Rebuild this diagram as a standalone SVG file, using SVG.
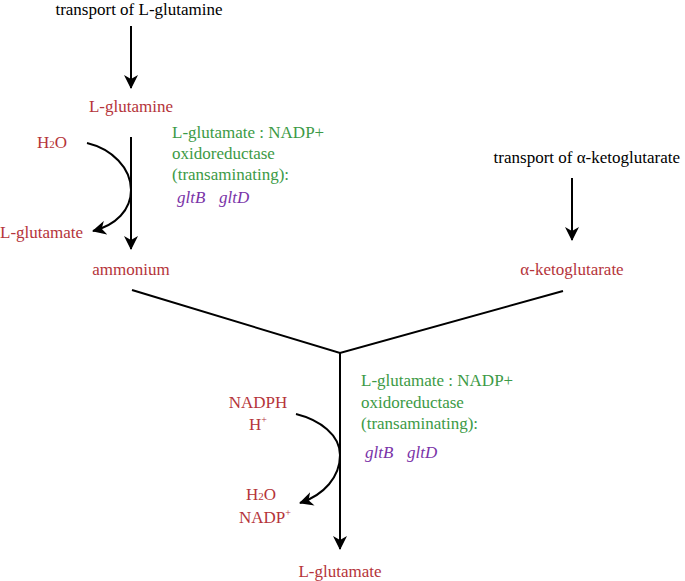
<svg xmlns="http://www.w3.org/2000/svg" width="685" height="581" viewBox="0 0 685 581">
<style>
text{font-family:'Liberation Serif','Times New Roman','DejaVu Serif',serif;font-size:17px}
.k{fill:#000}
.r{fill:#b5343a}
.g{fill:#3c9a46}
.p{fill:#7a34a8;font-style:italic}
.ln{stroke:#000;stroke-width:2;fill:none}
</style>
<defs>
<marker id="ah" markerWidth="14" markerHeight="14" viewBox="0 0 14 14" refX="13" refY="7" orient="auto" markerUnits="userSpaceOnUse">
<path d="M0,0 L14,7 L0,14 L4,7 Z" fill="#000"/>
</marker>
</defs>
<g id="connectors">
<line class="ln" x1="131" y1="26" x2="131" y2="88" marker-end="url(#ah)"/>
<line class="ln" x1="131" y1="137" x2="131" y2="249" marker-end="url(#ah)"/>
<path class="ln" d="M87,143 C112,149 131,168 131,190 C131,210 116,225 93,231" marker-end="url(#ah)"/>
<line class="ln" x1="572" y1="178" x2="572" y2="240" marker-end="url(#ah)"/>
<polyline class="ln" points="132,290 340,353 563,291"/>
<line class="ln" x1="340" y1="352" x2="340" y2="549" marker-end="url(#ah)"/>
<path class="ln" d="M296,414 C320,420 340,435 340,455 C340,477 324,495 300,503" marker-end="url(#ah)"/>
</g>
<g id="transport-glutamine"><text class="k" x="139" y="15" text-anchor="middle">transport of L-glutamine</text></g>
<g id="l-glutamine"><text class="r" x="131" y="112" text-anchor="middle">L-glutamine</text></g>
<g id="h2o-top"><text class="r" x="37" y="148">H<tspan font-size="11">2</tspan>O</text></g>
<g id="l-glutamate-top"><text class="r" x="0" y="238">L-glutamate</text></g>
<g id="enzyme-top">
<text class="g" x="172" y="138">L-glutamate : NADP+</text>
<text class="g" x="172" y="159">oxidoreductase</text>
<text class="g" x="172" y="180">(transaminating):</text>
<text class="p" x="177" y="203">gltB</text>
<text class="p" x="219" y="203">gltD</text>
</g>
<g id="ammonium"><text class="r" x="131" y="275" text-anchor="middle">ammonium</text></g>
<g id="transport-akg"><text class="k" x="680" y="163" text-anchor="end">transport of α-ketoglutarate</text></g>
<g id="akg"><text class="r" x="572" y="275" text-anchor="middle">α-ketoglutarate</text></g>
<g id="enzyme-bottom">
<text class="g" x="361" y="386">L-glutamate : NADP+</text>
<text class="g" x="361" y="408">oxidoreductase</text>
<text class="g" x="361" y="429">(transaminating):</text>
<text class="p" x="365" y="458">gltB</text>
<text class="p" x="407" y="458">gltD</text>
</g>
<g id="nadph"><text class="r" x="258" y="408" text-anchor="middle">NADPH</text><text class="r" x="258" y="430" text-anchor="middle">H<tspan font-size="10" dy="-7">+</tspan></text></g>
<g id="h2o-nadp"><text class="r" x="261" y="500" text-anchor="middle">H<tspan font-size="11">2</tspan>O</text><text class="r" x="265" y="523" text-anchor="middle">NADP<tspan font-size="10" dy="-7">+</tspan></text></g>
<g id="l-glutamate-bottom"><text class="r" x="340" y="577" text-anchor="middle">L-glutamate</text></g>
</svg>
